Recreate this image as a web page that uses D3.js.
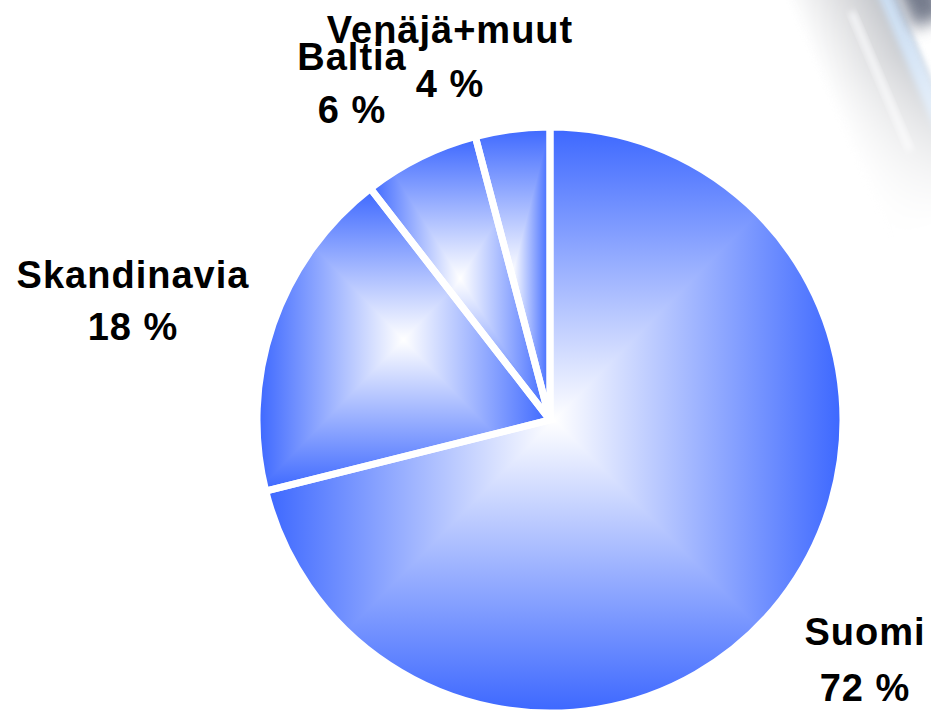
<!DOCTYPE html>
<html>
<head>
<meta charset="utf-8">
<script src="https://cdn.jsdelivr.net/npm/d3@7"></script>
<style>
  html, body { margin: 0; padding: 0; background: #fff; }
  svg { display: block; }
  .lbl { font-family: "Liberation Sans", Arial, sans-serif; font-weight: bold; font-size: 38px; fill: #000; letter-spacing: 1px; }
</style>
</head>
<body>
<div id="chart"></div>
<script>
const regions = ['Suomi', 'Skandinavia', 'Baltia', 'Venäjä+muut']
const shares = [71.1, 18.4, 6.4, 4.1]
const shareLabels = ['72 %', '18 %', '6 %', '4 %']

const width = 931
const height = 715
const cx = 550
const cy = 420
const radius = 293
const edgeBlue = '#3c67ff'
// hand placed labels: [x, name baseline, value baseline]
const labelPos = [[865, 645, 701], [133, 288, 340], [352, 70, 123], [450, 43, 97]]

const svg = d3.select('#chart')
  .append('svg')
  .attr('width', width)
  .attr('height', height)

const defs = svg.append('defs')

// light streaks in the top right corner (background picture)
const deco = defs.append('linearGradient')
  .attr('id', 'decoFade')
  .attr('x1', 0).attr('y1', 0).attr('x2', 0).attr('y2', 1)
deco.append('stop').attr('offset', 0).attr('stop-color', '#fff').attr('stop-opacity', 1)
deco.append('stop').attr('offset', 0.4).attr('stop-color', '#fff').attr('stop-opacity', 0.75)
deco.append('stop').attr('offset', 1).attr('stop-color', '#fff').attr('stop-opacity', 0)
defs.append('mask').attr('id', 'decoMask')
  .attr('maskUnits', 'userSpaceOnUse')
  .attr('x', -200).attr('y', -100).attr('width', 400).attr('height', 400)
  .append('rect')
  .attr('x', -200).attr('y', -60).attr('width', 400).attr('height', 290)
  .attr('fill', 'url(#decoFade)')
const band = defs.append('linearGradient').attr('id', 'decoBand')
band.append('stop').attr('offset', 0).attr('stop-color', '#fff')
band.append('stop').attr('offset', 0.6).attr('stop-color', '#d3d4d7')
band.append('stop').attr('offset', 1).attr('stop-color', '#aeb2b9')
defs.append('filter').attr('id', 'blur')
  .attr('x', '-50%').attr('y', '-50%').attr('width', '200%').attr('height', '200%')
  .append('feGaussianBlur').attr('stdDeviation', 3)
defs.append('filter').attr('id', 'blur2')
  .attr('x', '-50%').attr('y', '-50%').attr('width', '200%').attr('height', '200%')
  .append('feGaussianBlur').attr('stdDeviation', 8)

const dg = svg.append('g')
  .attr('transform', 'translate(880,0) rotate(-23)')
  .append('g')
  .attr('mask', 'url(#decoMask)')
dg.append('rect').attr('x', -85).attr('y', -60).attr('width', 100).attr('height', 300)
  .attr('fill', 'url(#decoBand)').attr('filter', 'url(#blur)')
dg.append('rect').attr('x', -34).attr('y', 0).attr('width', 6).attr('height', 150)
  .attr('fill', '#f6f7f9').attr('filter', 'url(#blur)')
dg.append('rect').attr('x', 0).attr('y', -60).attr('width', 16).attr('height', 280)
  .attr('fill', '#c6dbf3').attr('filter', 'url(#blur)')
dg.append('rect').attr('x', 20).attr('y', -60).attr('width', 36).attr('height', 100)
  .attr('fill', '#5a6276').attr('filter', 'url(#blur2)')
dg.append('rect').attr('x', 56).attr('y', -60).attr('width', 30).attr('height', 300)
  .attr('fill', '#e3ecf6').attr('filter', 'url(#blur)')

const pie = d3.pie().sort(null).value((d) => d)
const arcs = pie(shares)
const arc = d3.arc().innerRadius(0).outerRadius(radius)

function sliceBox(d) {
  const pts = [[cx, cy]]
  for (let a = d.startAngle; a <= d.endAngle; a += 0.002) {
    pts.push([cx + radius * Math.sin(a), cy - radius * Math.cos(a)])
  }
  pts.push([cx + radius * Math.sin(d.endAngle), cy - radius * Math.cos(d.endAngle)])
  const xs = pts.map((p) => p[0])
  const ys = pts.map((p) => p[1])
  return [d3.min(xs), d3.min(ys), d3.max(xs), d3.max(ys)]
}

const slices = svg.append('g')

arcs.forEach((d, i) => {
  const [x0, y0, x1, y1] = sliceBox(d)
  const mx = (x0 + x1) / 2
  const my = (y0 + y1) / 2

  defs.append('clipPath')
    .attr('id', 'clip' + i)
    .append('path')
    .attr('transform', `translate(${cx},${cy})`)
    .attr('d', arc(d))

  // rectangular "from centre" gradient: four triangles, each a linear ramp
  const parts = [
    { pts: [[x0, y0], [x1, y0], [mx, my]], from: [mx, y0] },
    { pts: [[x1, y0], [x1, y1], [mx, my]], from: [x1, my] },
    { pts: [[x1, y1], [x0, y1], [mx, my]], from: [mx, y1] },
    { pts: [[x0, y1], [x0, y0], [mx, my]], from: [x0, my] }
  ]

  const g = slices.append('g').attr('clip-path', `url(#clip${i})`)
  parts.forEach((p, k) => {
    const id = `grad${i}_${k}`
    const lg = defs.append('linearGradient')
      .attr('id', id)
      .attr('gradientUnits', 'userSpaceOnUse')
      .attr('x1', p.from[0]).attr('y1', p.from[1])
      .attr('x2', mx).attr('y2', my)
    lg.append('stop').attr('offset', 0).attr('stop-color', edgeBlue)
    lg.append('stop').attr('offset', 1).attr('stop-color', '#ffffff')
    g.append('polygon')
      .attr('points', p.pts.map((q) => q.join(',')).join(' '))
      .attr('fill', `url(#${id})`)
      .attr('shape-rendering', 'crispEdges')
  })
})

// white gaps between the slices
slices.selectAll('path.sep')
  .data(arcs)
  .join('path')
  .attr('class', 'sep')
  .attr('transform', `translate(${cx},${cy})`)
  .attr('d', arc)
  .attr('fill', 'none')
  .attr('stroke', '#fff')
  .attr('stroke-width', 7)
  .attr('stroke-linejoin', 'miter')

const labels = svg.append('g')
regions.forEach((name, i) => {
  const [x, yName, yVal] = labelPos[i]
  labels.append('text')
    .attr('class', 'lbl')
    .attr('x', x).attr('y', yName)
    .attr('text-anchor', 'middle')
    .text(name)
  labels.append('text')
    .attr('class', 'lbl')
    .attr('x', x).attr('y', yVal)
    .attr('text-anchor', 'middle')
    .text(shareLabels[i])
})
</script>
</body>
</html>
